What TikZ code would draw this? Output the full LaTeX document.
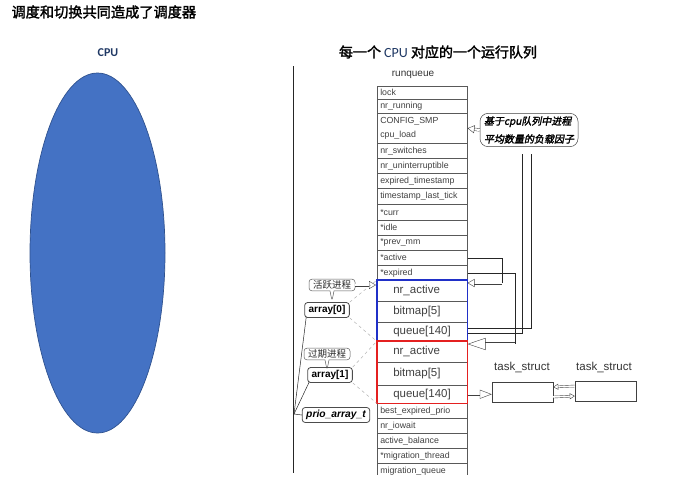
\documentclass[tikz,border=0pt]{standalone}
\usepackage{fontspec}
\setmainfont{Liberation Sans}
\newfontfamily\cjk{Noto Sans CJK SC}
\newfontfamily\cjkb[FakeBold=2]{Noto Sans CJK SC}
\newfontfamily\cjkbi[FakeBold=2,FakeSlant=0.2]{Noto Sans CJK SC}
\newfontfamily\cali{Carlito}
\usepackage{xcolor}
\usetikzlibrary{positioning,arrows.meta,shapes.callouts,calc}
\definecolor{cpufill}{RGB}{68,114,196}
\definecolor{cpuedge}{RGB}{47,82,143}
\definecolor{qblue}{RGB}{32,48,200}
\definecolor{qred}{RGB}{228,32,32}
\definecolor{navy}{RGB}{31,56,100}

\begin{document}
\begin{tikzpicture}[
          x=1pt, y=-1pt,
          row/.style={draw=gray!70!black, line width=0.5pt, minimum width=90pt, text width=84pt, inner xsep=3pt, inner ysep=0pt, anchor=north west, align=left, text=black!75, font=\fontsize{8.8}{10}\selectfont},
          qrow/.style={row, text width=58pt, inner xsep=16pt, font=\fontsize{11.5}{13}\selectfont},
          tag/.style={rectangle callout, draw=gray!70!black, line width=0.5pt, rounded corners=3pt, callout relative pointer={(0pt,-10pt)}, callout pointer width=4pt, inner xsep=4pt, inner ysep=1.5pt, text=gray!30!black, font=\cjk\fontsize{9.5}{10}\selectfont},
          arrbox/.style={draw=gray!60!black, line width=0.8pt, rounded corners=3pt, inner xsep=4pt, inner ysep=2pt, minimum height=15pt, font=\bfseries\fontsize{10}{11}\selectfont},
          link/.style={draw=gray!30!black, line width=0.5pt},
          dashlink/.style={draw=gray!60, line width=0.5pt, dashed},
          hol/.style={draw=gray!50!black, line width=0.4pt, double=white, double distance=2.2pt, -{Triangle[open, length=7pt, width=8pt]}},
          holbig/.style={hol, double distance=3pt, -{Triangle[open, length=18pt, width=12pt]}},
          tbox/.style={draw=gray!50!black, line width=0.5pt, minimum width=61pt, minimum height=20pt}
      ]
        \useasboundingbox (0,0) rectangle (679,483);
        \node[anchor=west, font=\cjkb\fontsize{14.2}{16}\selectfont] (title) at (8,12) {调度和切换共同造成了调度器};
        \node[font=\cali\bfseries\fontsize{12}{13}\selectfont, text=navy] (cpulbl) at (108,53) {CPU};
        \draw[fill=cpufill, draw=cpuedge, line width=0.7pt] (97.5,253) ellipse [x radius=67.5, y radius=180];
        \node[font=\cjkb\fontsize{14}{16}\selectfont] (rqtitle) at (438,52) {每一个 {\cali\mdseries\color{navy}CPU} 对应的一个运行队列};
        \draw[link] (293,66) -- (293,473);

        \node[font=\fontsize{10}{11}\selectfont, text=black!80] (rqlbl) at (413,75) {runqueue};
        \node[row, minimum height=13pt] (lock) at (377,86) {lock};
        \node[row, minimum height=14pt] (nrrun) at (377,99) {nr\_running};
        \node[row, minimum height=30pt] (cfg) at (377,113) {CONFIG\_SMP\\[4pt]cpu\_load};
        \node[row, minimum height=15pt] (nrsw) at (377,143) {nr\_switches};
        \node[row, minimum height=15pt] (nrun) at (377,158) {nr\_uninterruptible};
        \node[row, minimum height=15pt] (expts) at (377,173) {expired\_timestamp};
        \node[row, minimum height=16pt] (tslt) at (377,188) {timestamp\_last\_tick};
        \node[row, minimum height=16pt] (curr) at (377,204) {*curr};
        \node[row, minimum height=15pt] (idle) at (377,220) {*idle};
        \node[row, minimum height=15pt] (prevmm) at (377,235) {*prev\_mm};
        \node[row, minimum height=15pt] (active) at (377,250) {*active};
        \node[row, minimum height=15pt] (expired) at (377,265) {*expired};
        \node[qrow, minimum height=21pt] (na0) at (377,280) {nr\_active};
        \node[qrow, minimum height=21pt] (bm0) at (377,301) {bitmap[5]};
        \node[qrow, minimum height=19pt] (q0) at (377,322) {queue[140]};
        \node[qrow, minimum height=21pt] (na1) at (377,341) {nr\_active};
        \node[qrow, minimum height=23pt] (bm1) at (377,362) {bitmap[5]};
        \node[qrow, minimum height=18pt] (q1) at (377,385) {queue[140]};
        \node[row, minimum height=15pt] (bep) at (377,403) {best\_expired\_prio};
        \node[row, minimum height=15pt] (iow) at (377,418) {nr\_iowait};
        \node[row, minimum height=15pt] (actbal) at (377,433) {active\_balance};
        \node[row, minimum height=15pt] (migth) at (377,448) {*migration\_thread};
        \begin{scope}
          \clip (0,0) rectangle (679,474);
          \node[row, minimum height=15pt] (migq) at (377,463) {migration\_queue};
        \end{scope}
        \draw[qblue, line width=1.5pt] (na0.north west) rectangle (q0.south east);
        \draw[qred, line width=1.5pt] (na1.north west) rectangle (q1.south east);

        \node[tag] (act) at (332,285) {活跃进程};
        \node[arrbox] (a0) at (327,310) {array[0]};
        \node[tag] (exq) at (327,354) {过期进程};
        \node[arrbox] (a1) at (330,375) {array[1]};
        \node[arrbox, font=\bfseries\itshape\fontsize{10.3}{11}\selectfont] (prio) at (336,415) {prio\_array\_t};
        \coordinate (hub) at (294,414);
        \draw[link] (hub) -- (prio.west);
        \draw[link] (hub) -- ($(a0.south west)+(2,-1)$);
        \draw[link] (hub) -- ($(a1.south west)+(2,-1)$);
        \draw[dashlink] (a0.north east) -- (na0.north west);
        \draw[dashlink] (a0.south east) -- (q0.south west);
        \draw[dashlink] (a1.north east) -- (na1.north west);
        \draw[dashlink] (a1.south east) -- (q1.south west);
        \draw[hol, shorten >=1pt] (act.east) -- (na0.west |- act.east);

        \node[draw=gray!50!black, line width=0.5pt, rounded corners=8pt, align=left, inner xsep=4pt, inner ysep=3pt, font=\cjkbi\fontsize{10}{18}\selectfont] (load) at (529,130) {基于cpu队列中进程\\平均数量的负载因子};
        \draw[hol] (load.west) -- (cfg.east);
        \draw[link] ($(q0.east)+(0,-4)$) -| ($(load.south)+(2,7)$);
        \draw[link] ($(q0.east)+(0,1)$) -| ($(load.south)+(-7,7)$);
        \coordinate (actbend) at (502,283);
        \coordinate (expbend) at (515,344);
        \draw[link] (active.east) -| (actbend);
        \draw[hol] (actbend) -- (na0.east |- actbend);
        \draw[link] (expired.east) -| (expbend);
        \draw[holbig] (expbend) -- (na1.east |- expbend);

        \node[tbox] (ts1) at (522.5,392) {};
        \node[tbox] (ts2) at (605.5,391) {};
        \node[font=\fontsize{11.5}{12}\selectfont, text=black!80] (ts1lbl) at (522,367) {task\_struct};
        \node[font=\fontsize{11.5}{12}\selectfont, text=black!80] (ts2lbl) at (604,367) {task\_struct};
        \draw[hol, -{Triangle[open, length=12pt, width=9pt]}] (q1.east) -- (ts1.west |- q1.east);
        \draw[hol, double distance=1.6pt, -{Triangle[open, length=5pt, width=6pt]}] ($(ts2.west)+(0,-5)$) -- ($(ts1.east)+(0,-5)$);
        \draw[hol, double distance=1.6pt, -{Triangle[open, length=5pt, width=6pt]}] ($(ts1.east)+(0,5)$) -- ($(ts2.west)+(0,5)$);
      \end{tikzpicture}
\end{document}
